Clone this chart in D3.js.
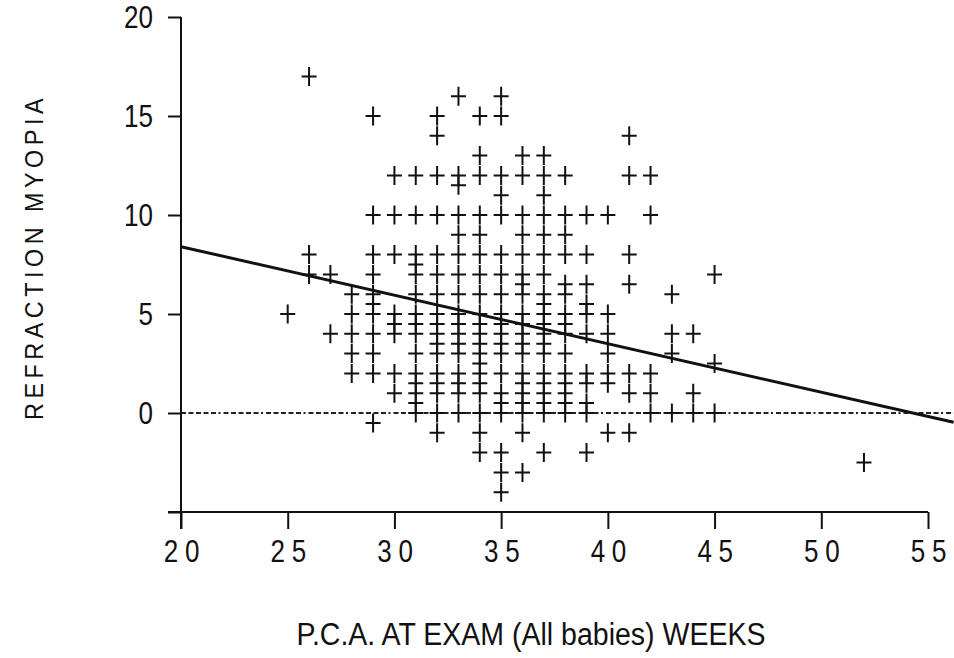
<!DOCTYPE html>
<html>
<head>
<meta charset="utf-8">
<script src="https://cdn.jsdelivr.net/npm/d3@7"></script>
<style>
  body { margin: 0; background: #fff; }
  svg text { font-family: "Liberation Sans", Arial, sans-serif; fill: #111; }
</style>
</head>
<body>
<div id="chart"></div>
<script>
// Post-conceptional age at exam (weeks) and refraction readings at each age
const weeks = [25, 26, 27, 28, 29, 30, 31, 32, 33, 34, 35, 36, 37, 38, 39, 40, 41, 42, 43, 44, 45, 52];
const refractionByWeek = [
  [5],
  [17, 8, 7],
  [7, 4],
  [6, 5, 4, 3, 2],
  [15, 10, 8, 7, 6, 5.5, 5, 4, 3, 2, -0.5],
  [12, 10, 8, 5, 4.5, 4, 2, 1],
  [12, 10, 8, 7.5, 7, 6, 5, 4.5, 4, 3, 2, 1.5, 1, 0.5, 0],
  [15, 14, 12, 10, 8, 7, 6, 5, 4.5, 4, 3.5, 3, 2, 1.5, 1, 0, -1],
  [16, 12, 11.5, 10, 9, 8, 7, 6, 5, 4.5, 4, 3.5, 3, 2, 1.5, 1, 0],
  [15, 13, 12, 10, 9, 8, 7, 6, 5, 4.5, 4, 3.5, 3, 2.5, 2, 1.5, 1, 0, -1, -2],
  [16, 15, 12, 11, 10, 8, 7, 6, 5, 4.5, 4, 3.5, 3, 2, 1, 0.5, 0, -2, -3, -4],
  [13, 12, 10, 9, 8, 7, 6.5, 6, 5, 4.5, 4, 3.5, 3, 2, 1.5, 1, 0.5, 0, -1, -3],
  [13, 12, 11, 10, 9, 8, 7, 6, 5.5, 5, 4.5, 4, 3.5, 3, 2, 1.5, 1, 0.5, 0, -2],
  [12, 10, 9, 8, 6.5, 6, 5, 4.5, 4, 3, 2, 1.5, 1, 0.5, 0],
  [10, 8, 6.5, 5.5, 5, 4, 2, 1.5, 0.5, 0, -2],
  [10, 5, 4, 3, 2, 1.5, -1],
  [14, 12, 8, 6.5, 2, 1, -1],
  [12, 10, 2, 1, 0],
  [6, 4, 3, 0],
  [4, 1, 0],
  [7, 2.5, 0],
  [-2.5]
];
const xTicks = [20, 25, 30, 35, 40, 45, 50, 55];
const yTicks = [20, 15, 10, 5, 0];
const yTickMarks = [20, 15, 10, 5, 0, -5];
// regression line: refraction = fitIntercept + fitSlope * (week - 20)
const fitIntercept = 8.4;
const fitSlope = -0.245;
const fitWeeks = [20, 56.2];

class ScatterChart {
  constructor(_config) {
    this.config = {
      parentElement: _config.parentElement,
      width: _config.width || 954,
      height: _config.height || 658
    };
    this.initVis();
  }

  initVis() {
    const vis = this;
    vis.svg = d3.select(vis.config.parentElement).append('svg')
      .attr('width', vis.config.width)
      .attr('height', vis.config.height);

    vis.xScale = d3.scaleLinear().domain([20, 55]).range([181, 928]);
    vis.yScale = d3.scaleLinear().domain([-5, 20]).range([512, 17]);

    vis.points = [];
    weeks.forEach((w, i) => refractionByWeek[i].forEach(v => vis.points.push({week: w, value: v})));

    vis.renderVis();
  }

  renderVis() {
    const vis = this;
    const x = vis.xScale, y = vis.yScale;

    // zero reference line (dotted)
    vis.svg.append('line')
      .attr('x1', x(20)).attr('x2', x(56.2))
      .attr('y1', y(0)).attr('y2', y(0))
      .attr('stroke', '#222').attr('stroke-width', 2)
      .attr('stroke-dasharray', '5,2.5,5,2.5,5,2.5,5,2.5,5,2.5,2,3');

    // axes
    const yAxis = d3.axisLeft(y).tickValues(yTickMarks).tickSize(13).tickFormat('');
    vis.svg.append('g').attr('class', 'y-axis')
      .attr('transform', `translate(${x(20)},0)`)
      .call(yAxis)
      .call(g => g.select('.domain').remove());
    vis.svg.append('line')
      .attr('x1', x(20)).attr('x2', x(20))
      .attr('y1', y(20)).attr('y2', y(-5) + 17)
      .attr('stroke', '#111').attr('stroke-width', 2);

    const xAxis = d3.axisBottom(x).tickValues(xTicks).tickSize(17).tickFormat('');
    vis.svg.append('g').attr('class', 'x-axis')
      .attr('transform', `translate(0,${y(-5)})`)
      .call(xAxis)
      .call(g => g.select('.domain').remove());
    vis.svg.append('line')
      .attr('x1', x(20) - 13).attr('x2', x(55))
      .attr('y1', y(-5)).attr('y2', y(-5))
      .attr('stroke', '#111').attr('stroke-width', 2);

    vis.svg.selectAll('.tick line').attr('stroke', '#111').attr('stroke-width', 2);

    // tick labels, drawn in a condensed style
    vis.svg.selectAll('.y-label').data(yTicks).enter().append('text')
      .attr('class', 'y-label')
      .attr('transform', d => `translate(${x(20) - 28},${y(d) + 11}) scale(0.84,1)`)
      .attr('text-anchor', 'end')
      .attr('font-size', 31)
      .text(d => d);

    vis.svg.selectAll('.x-label').data(xTicks).enter().append('text')
      .attr('class', 'x-label')
      .attr('transform', d => `translate(${x(d) + 4},${y(-5) + 50}) scale(0.84,1)`)
      .attr('text-anchor', 'middle')
      .attr('font-size', 31)
      .attr('letter-spacing', 8)
      .text(d => d);

    // axis titles
    vis.svg.append('text')
      .attr('transform', `translate(43,${257}) rotate(-90) scale(0.9,1)`)
      .attr('text-anchor', 'middle')
      .attr('font-size', 26)
      .attr('letter-spacing', 5)
      .text('REFRACTION MYOPIA');

    vis.svg.append('text')
      .attr('transform', `translate(531,645) scale(0.92,1)`)
      .attr('text-anchor', 'middle')
      .attr('font-size', 31)
      .text('P.C.A. AT EXAM (All babies) WEEKS');

    // regression line
    const fitLine = d3.line()
      .x(d => x(d))
      .y(d => y(fitIntercept + fitSlope * (d - 20)));
    vis.svg.append('path')
      .datum(fitWeeks)
      .attr('d', fitLine)
      .attr('fill', 'none')
      .attr('stroke', '#111')
      .attr('stroke-width', 3);

    // data crosses
    vis.svg.selectAll('.pt').data(vis.points).enter().append('path')
      .attr('class', 'pt')
      .attr('transform', d => `translate(${x(d.week)},${y(d.value)})`)
      .attr('d', 'M-7.5,0H7.5M0,-9.5V9.5')
      .attr('stroke', '#111')
      .attr('stroke-width', 2)
      .attr('fill', 'none');
  }
}

const chart = new ScatterChart({parentElement: '#chart'});
</script>
</body>
</html>
